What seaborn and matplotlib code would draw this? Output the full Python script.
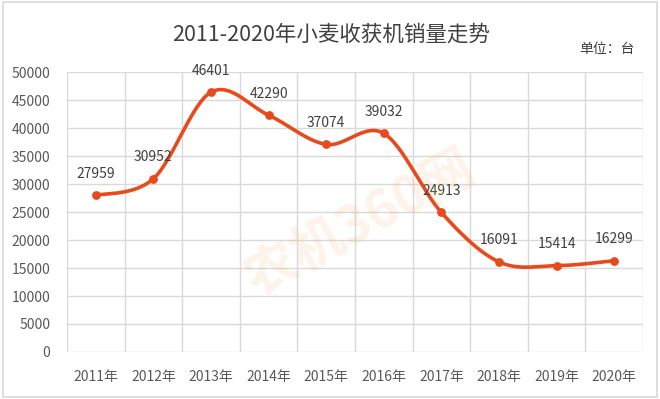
import numpy as np
import pandas as pd
import matplotlib
matplotlib.use("Agg")
import matplotlib.pyplot as plt
import seaborn as sns
from matplotlib.patches import Rectangle

years = ["2011年", "2012年", "2013年", "2014年", "2015年", "2016年", "2017年", "2018年", "2019年", "2020年"]
sales = [27959, 30952, 46401, 42290, 37074, 39032, 24913, 16091, 15414, 16299]
yticks = [0, 5000, 10000, 15000, 20000, 25000, 30000, 35000, 40000, 45000, 50000]
title = "2011-2020年小麦收获机销量走势"
unit = "单位：台"

sns.set_theme(style="white")
plt.rcParams['font.family'] = ['Noto Sans CJK SC', 'DejaVu Sans']

df = pd.DataFrame({"x": np.arange(len(years)), "y": sales})

fig = plt.figure(figsize=(6.6, 3.99), dpi=100)
fig.patch.set_facecolor("white")
fig.add_artist(Rectangle((0.004, 0.006), 0.992, 0.988, transform=fig.transFigure,
                         fill=False, edgecolor="#D9D9D9", linewidth=1.2))
ax = fig.add_axes([0.1015, 0.1178, 0.8727, 0.7017])

color = "#E84A1C"

# smooth curve (Catmull-Rom / Bezier as in spreadsheet smoothing)
xs = df["x"].to_numpy(dtype=float)
ys = df["y"].to_numpy(dtype=float)
P = np.column_stack([xs, ys])
Pe = np.vstack([P[0], P, P[-1]])
curve = []
t = np.linspace(0, 1, 30)[:, None]
for i in range(len(P) - 1):
    p0, p1, p2, p3 = Pe[i], Pe[i + 1], Pe[i + 2], Pe[i + 3]
    c1 = p1 + (p2 - p0) / 6
    c2 = p2 - (p3 - p1) / 6
    seg = ((1 - t) ** 3) * p1 + 3 * ((1 - t) ** 2) * t * c1 + 3 * (1 - t) * t ** 2 * c2 + t ** 3 * p2
    curve.append(seg if i == 0 else seg[1:])
curve = np.vstack(curve)

# watermark
fig.text(0.545, 0.44, "农机360网", fontsize=38, fontweight="bold", color="#F6A04D",
         alpha=0.13, rotation=28, ha="center", va="center", zorder=0)

ax.patch.set_alpha(0)
ax.plot(curve[:, 0], curve[:, 1], color=color, linewidth=2.6, solid_capstyle="round", zorder=3)
sns.scatterplot(data=df, x="x", y="y", ax=ax, color=color, s=40, edgecolor=color, linewidth=0, zorder=4, legend=False)

for xi, yi in zip(xs, ys):
    ax.annotate(f"{int(yi)}", (xi, yi), xytext=(0, 10.5), textcoords="offset points",
                ha="center", va="bottom", fontsize=10, color="#404040")

ax.set_xlim(-0.5, len(years) - 0.5)
ax.set_ylim(0, 50000)
ax.set_yticks(yticks)
ax.set_yticklabels([str(v) for v in yticks], fontsize=10, color="#595959")
ax.set_xticks(xs)
ax.set_xticklabels(years, fontsize=10, color="#595959")
ax.set_xticks(np.arange(-0.5, len(years), 1), minor=True)
ax.tick_params(axis="both", which="both", length=0)
ax.tick_params(axis="x", pad=13)
ax.tick_params(axis="y", pad=12)
ax.grid(True, axis="y", which="major", color="#D9D9D9", linewidth=1)
ax.grid(True, axis="x", which="minor", color="#D9D9D9", linewidth=1)
ax.grid(False, axis="x", which="major")
for s in ax.spines.values():
    s.set_visible(False)
ax.set_xlabel("")
ax.set_ylabel("")

fig.text(0.502, 0.912, title, fontsize=15.5, color="#404040", ha="center", va="center")
fig.text(0.962, 0.878, unit, fontsize=10, color="#404040", ha="right", va="center")

fig.savefig("out.png", dpi=100, facecolor="white")
